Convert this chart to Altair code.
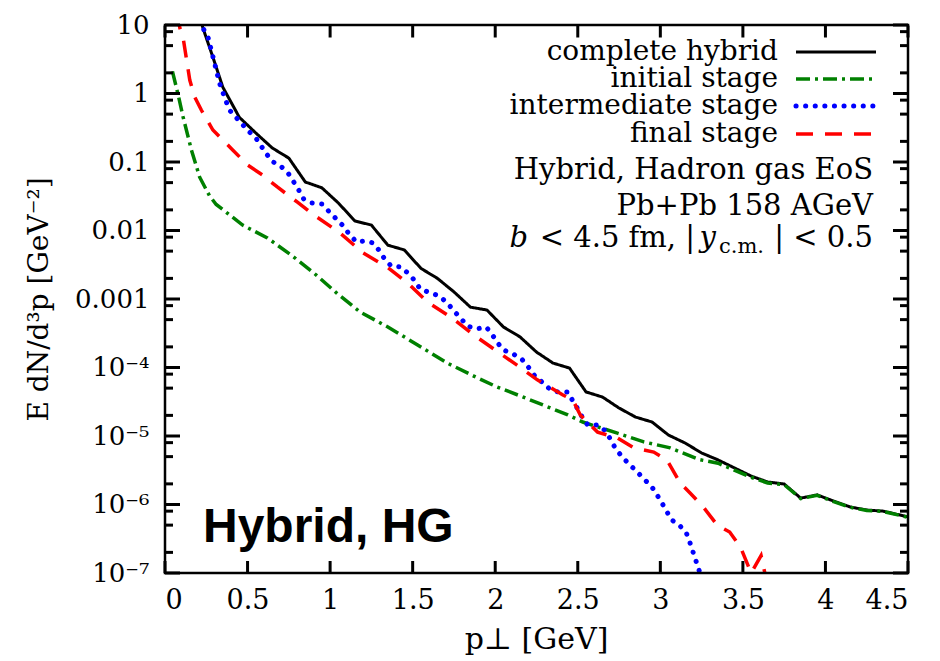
import altair as alt
import pandas as pd

# ---------------- data ----------------
complete_x = [0.15, 0.23, 0.29, 0.35, 0.45, 0.55, 0.65, 0.75, 0.85, 0.95, 1.05, 1.15, 1.25, 1.35,
              1.45, 1.55, 1.65, 1.75, 1.85, 1.95, 2.05, 2.15, 2.25, 2.35, 2.45, 2.55, 2.65, 2.75,
              2.85, 2.95, 3.05, 3.15, 3.25, 3.35, 3.45, 3.55, 3.65, 3.75, 3.85, 3.95, 4.05, 4.15,
              4.25, 4.35, 4.5]
complete_y = [40, 9.0, 3.4, 1.24, 0.45, 0.265, 0.16, 0.114, 0.051, 0.042, 0.0252, 0.0138, 0.012,
              0.0061, 0.0052, 0.0028, 0.0020, 0.00127, 7.6e-4, 6.9e-4, 3.9e-4, 2.8e-4, 1.68e-4,
              1.16e-4, 9.8e-5, 4.4e-5, 3.7e-5, 2.56e-5, 1.89e-5, 1.6e-5, 1.03e-5, 7.9e-6, 5.65e-6,
              4.47e-6, 3.41e-6, 2.6e-6, 2.13e-6, 1.99e-6, 1.24e-6, 1.38e-6, 1.12e-6, 9.2e-7,
              8.3e-7, 8.0e-7, 6.6e-7]

initial_x = [0.045, 0.08, 0.11, 0.16, 0.21, 0.27, 0.31, 0.47, 0.62, 0.78, 0.92, 1.04, 1.18, 1.35,
             1.53, 1.71, 1.87, 2.01, 2.17, 2.32, 2.44, 2.53, 2.74, 2.90, 3.06, 3.24, 3.35, 3.55,
             3.65, 3.75, 3.85, 3.95, 4.05, 4.15, 4.25, 4.35, 4.5]
initial_y = [2.1, 0.95, 0.45, 0.15, 0.060, 0.032, 0.024, 0.012, 0.0078, 0.0041, 0.0022, 0.00122,
             6.5e-4, 3.9e-4, 2.13e-4, 1.16e-4, 7.5e-5, 5.2e-5, 3.7e-5, 2.65e-5, 2.03e-5, 1.6e-5,
             1.1e-5, 8.2e-6, 6.7e-6, 4.5e-6, 4.0e-6, 2.5e-6, 2.06e-6, 1.95e-6, 1.22e-6, 1.36e-6,
             1.1e-6, 9.1e-7, 8.2e-7, 7.9e-7, 6.5e-7]

intermediate_x = [0.15, 0.23, 0.26, 0.30, 0.33, 0.36, 0.39, 0.455, 0.50, 0.56, 0.61, 0.655, 0.70,
                  0.745, 0.78, 0.81, 0.84, 0.89, 0.95, 0.99, 1.08, 1.115, 1.16, 1.21, 1.26, 1.30,
                  1.33, 1.37, 1.43, 1.47, 1.515, 1.545, 1.61, 1.66, 1.71, 1.75, 1.79, 1.83, 1.885,
                  1.945, 1.98, 2.01, 2.05, 2.11, 2.16, 2.20, 2.24, 2.285, 2.33, 2.38, 2.44, 2.47,
                  2.50, 2.53, 2.56, 2.62, 2.67, 2.70, 2.73, 2.77, 2.81, 2.855, 2.90, 2.945, 2.98,
                  3.01, 3.04, 3.07, 3.12, 3.16, 3.18, 3.20, 3.22, 3.24, 3.26]
intermediate_y = [40, 9.0, 6.7, 2.79, 1.42, 0.89, 0.574, 0.384, 0.293, 0.209, 0.135, 0.100, 0.0875,
                  0.069, 0.051, 0.039, 0.0288, 0.0252, 0.0244, 0.0193, 0.01164, 0.00889, 0.00679,
                  0.00703, 0.00658, 0.00502, 0.00384, 0.00303, 0.00293, 0.0024, 0.00183, 0.0014,
                  0.00122, 0.00111, 8.75e-4, 6.68e-4, 5.28e-4, 4.04e-4, 3.65e-4, 3.9e-4, 3.08e-4,
                  2.36e-4, 1.8e-4, 1.57e-4, 1.33e-4, 1.02e-4, 7.5e-5, 6.1e-5, 4.85e-5, 4.39e-5,
                  4.39e-5, 3.24e-5, 2.48e-5, 1.83e-5, 1.45e-5, 1.45e-5, 1.18e-5, 8.75e-6, 6.46e-6,
                  4.93e-6, 3.9e-6, 3.08e-6, 2.36e-6, 1.86e-6, 1.38e-6, 1.05e-6, 7.8e-7, 5.94e-7,
                  4.85e-7, 3.7e-7, 2.74e-7, 1.96e-7, 1.4e-7, 1.0e-7, 6e-8]

final_x = [0.05, 0.09, 0.11, 0.15, 0.18, 0.22, 0.29, 0.41, 0.50, 0.59, 0.68, 0.80, 0.92, 1.06,
           1.20, 1.345, 1.47, 1.59, 1.73, 1.87, 2.00, 2.13, 2.255, 2.41, 2.47, 2.515, 2.62, 2.74,
           2.84, 2.96, 3.04, 3.12, 3.18, 3.26, 3.345, 3.42, 3.485, 3.55, 3.61, 3.66]
final_y = [40, 9.0, 6.46, 1.57, 0.89, 0.574, 0.293, 0.150, 0.0904, 0.0646, 0.0432, 0.0261, 0.0157,
           0.0092, 0.0047, 0.00293, 0.00171, 9.0e-4, 5.46e-4, 2.98e-4, 1.8e-4, 1.09e-4, 6.6e-5,
           3.97e-5, 3.36e-5, 2.03e-5, 1.14e-5, 9.35e-6, 6.68e-6, 5.83e-6, 4.47e-6, 2.06e-6,
           1.47e-6, 9.2e-7, 5.0e-7, 3.97e-7, 2.4e-7, 1.0e-7, 1.8e-7, 5e-8]

series_names = ["complete hybrid", "initial stage", "intermediate stage", "final stage"]
series_colors = ["#000000", "#008000", "#0000ff", "#ff0000"]

x_tick_values = [0, 0.5, 1, 1.5, 2, 2.5, 3, 3.5, 4, 4.5]
x_tick_labels = ["0", "0.5", "1", "1.5", "2", "2.5", "3", "3.5", "4", "4.5"]
y_tick_values = [1e-7, 1e-6, 1e-5, 1e-4, 1e-3, 1e-2, 1e-1, 1, 10]
y_tick_labels = ["10⁻⁷", "10⁻⁶", "10⁻⁵", "10⁻⁴", "0.001", "0.01", "0.1", "1", "10"]
y_minor_mult = [2, 5, 8]
y_minor_values = [m * d for d in y_tick_values[:-1] for m in y_minor_mult]

info_lines = ["Hybrid, Hadron gas EoS", "Pb+Pb 158 AGeV"]
panel_label = "Hybrid, HG"

# ---------------- layout ----------------
W, H = 743, 548
SERIF = "DejaVu Serif"

x_scale = alt.Scale(domain=[0, 4.5], nice=False, zero=False)
y_scale = alt.Scale(type="log", domain=[1e-7, 10], nice=False)

x_label_expr = "[" + ",".join("'%s'" % s for s in x_tick_labels) + "][round(datum.value*2)]"
y_label_expr = "[" + ",".join("'%s'" % s for s in y_tick_labels) + "][round(log(datum.value)/LN10)+7]"

x_axis = alt.Axis(values=x_tick_values, labelExpr=x_label_expr, ticks=False,
                  domain=False, grid=False, labelFont=SERIF, labelFontSize=27, labelPadding=14,
                  labelColor="black", title="p⊥ [GeV]", titleFont=SERIF, titleFontSize=30,
                  titleFontWeight="normal", titleColor="black", titleX=371, titleY=75,
                  titleBaseline="alphabetic", titleAlign="center")
y_axis = alt.Axis(values=y_tick_values, labelExpr=y_label_expr, ticks=False,
                  domain=False, grid=False, labelFont=SERIF, labelFontSize=26, labelPadding=16,
                  labelColor="black", title="E dN/d³p  [GeV⁻²]", titleFont=SERIF,
                  titleFontSize=28, titleFontWeight="normal", titleColor="black",
                  titleX=-118, titleY=274, titleAngle=-90, titleBaseline="alphabetic",
                  titleAlign="center")

layers = []

# curves
styles = [
    dict(strokeDash=[1, 0], strokeWidth=3),
    dict(strokeDash=[14, 5, 3, 5], strokeWidth=3.5),
    dict(strokeDash=[0.1, 9.5], strokeWidth=5, strokeCap="round"),
    dict(strokeDash=[17, 12], strokeWidth=3.5),
]
curves = [(complete_x, complete_y), (initial_x, initial_y),
          (intermediate_x, intermediate_y), (final_x, final_y)]
for (xs, ys), col, st in zip(curves, series_colors, styles):
    df = pd.DataFrame({"x": xs, "y": ys})
    layers.append(alt.Chart(df).mark_line(color=col, clip=True, **st).encode(
        x=alt.X("x:Q", scale=x_scale, axis=x_axis),
        y=alt.Y("y:Q", scale=y_scale, axis=y_axis)))

# inward ticks on all four sides, placed at the tick values through the scales
xt = pd.DataFrame({"xt": x_tick_values})
for yc in (H - 6, 6.5):
    layers.append(alt.Chart(xt).mark_tick(color="black", thickness=3, size=12, opacity=1).encode(
        x=alt.X("xt:Q", scale=x_scale), y=alt.value(yc)))
ymaj = pd.DataFrame({"yt": y_tick_values})
ymin = pd.DataFrame({"yt": y_minor_values})
for df, ln in ((ymaj, 15), (ymin, 8)):
    for xc in (ln / 2, W - ln / 2):
        layers.append(alt.Chart(df).mark_tick(color="black", thickness=3, size=ln, opacity=1).encode(
            y=alt.Y("yt:Q", scale=y_scale), x=alt.value(xc)))

# legend
leg_base = [35, 62, 89, 117]
for name, col, st, yb in zip(series_names, series_colors, styles, leg_base):
    layers.append(alt.Chart(pd.DataFrame({"t": [name]})).mark_text(
        align="right", baseline="alphabetic", font=SERIF, fontSize=28, color="black").encode(
        text="t:N", x=alt.value(613), y=alt.value(yb)))
    layers.append(alt.Chart(pd.DataFrame({"t": [name]})).mark_rule(color=col, **st).encode(
        x=alt.value(631), x2=alt.value(711), y=alt.value(yb - 8)))

# info text
for line, yb in zip(info_lines, [154, 190]):
    layers.append(alt.Chart(pd.DataFrame({"t": [line]})).mark_text(
        align="right", baseline="alphabetic", font=SERIF, fontSize=29, color="black").encode(
        text="t:N", x=alt.value(708), y=alt.value(yb)))
parts = [("b", "right", 363, 222, 29, "italic"), ("< 4.5 fm, |", "right", 530, 222, 29, "normal"),
         ("y", "right", 551, 222, 29, "italic"), ("c.m.", "left", 554, 228, 21, "normal"),
         ("| < 0.5", "right", 708, 222, 29, "normal")]
for txt, al, xx, yy, fs, sty in parts:
    layers.append(alt.Chart(pd.DataFrame({"t": [txt]})).mark_text(
        align=al, baseline="alphabetic", font=SERIF, fontSize=fs, fontStyle=sty,
        color="black").encode(text="t:N", x=alt.value(xx), y=alt.value(yy)))

layers.append(alt.Chart(pd.DataFrame({"t": [panel_label]})).mark_text(
    align="left", baseline="alphabetic", font="Liberation Sans", fontSize=48,
    fontWeight="bold", color="black").encode(
    text="t:N", x=alt.value(38), y=alt.value(517)))

# plot frame
layers.append(alt.Chart(pd.DataFrame({"f": [0]})).mark_rect(
    filled=False, stroke="black", strokeWidth=2.5).encode(
    x=alt.value(0), x2=alt.value(W), y=alt.value(0), y2=alt.value(H)))

chart = alt.layer(*layers).properties(
    width=W, height=H,
    autosize=alt.AutoSizeParams(type="none"),
    padding={"left": 157, "top": 17, "right": 24, "bottom": 90},
)

chart.save("out.html", embed_options={"renderer": "svg", "actions": False})
